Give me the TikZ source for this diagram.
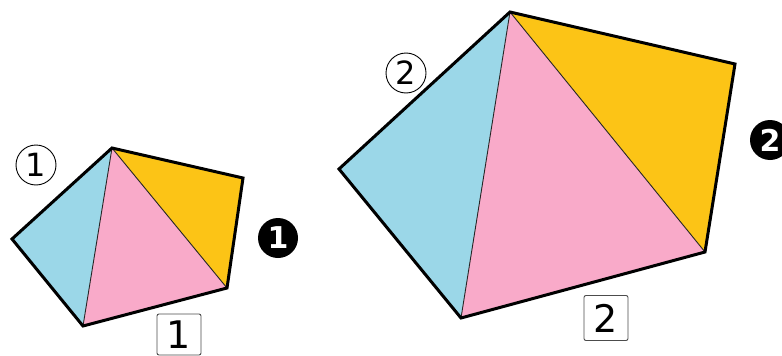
\documentclass[tikz,border=0pt]{standalone}
\usepackage{fontspec}
\setmainfont{DejaVu Sans}
\definecolor{cblue}{RGB}{155,215,232}
\definecolor{cpink}{RGB}{249,170,201}
\definecolor{cyel}{RGB}{252,196,22}
\tikzset{
  outline/.style={line width=3pt, line join=miter, black},
  diag/.style={line width=0.9pt, black!85},
  circnum/.style={circle, draw=black, line width=0.9pt, fill=white, minimum size=40pt, inner sep=0pt, font=\fontsize{32}{32}\selectfont},
  blacknum/.style={circle, fill=black, text=white, minimum size=40pt, inner sep=0pt, font=\bfseries\fontsize{30}{30}\selectfont},
  boxnum/.style={rectangle, rounded corners=2pt, draw=black!70, line width=0.9pt, fill=white, minimum width=44pt, minimum height=45pt, inner sep=0pt, font=\fontsize{38}{38}\selectfont}
}
\begin{document}
\begin{tikzpicture}[x=1pt,y=-1pt]
\useasboundingbox (0,0) rectangle (782,356);
% small pentagon
\coordinate (sT) at (112,148);
\coordinate (sRT) at (243,178);
\coordinate (sRB) at (227,288);
\coordinate (sB) at (83,326);
\coordinate (sL) at (12,239);
\fill[cblue] (sT) -- (sL) -- (sB) -- cycle;
\fill[cpink] (sT) -- (sB) -- (sRB) -- cycle;
\fill[cyel] (sT) -- (sRB) -- (sRT) -- cycle;
\draw[diag] (sT) -- (sB);
\draw[diag] (sT) -- (sRB);
\draw[outline] (sT) -- (sRT) -- (sRB) -- (sB) -- (sL) -- cycle;
% large pentagon
\coordinate (lT) at (510,12);
\coordinate (lRT) at (735,64);
\coordinate (lRB) at (705,252);
\coordinate (lB) at (461,318);
\coordinate (lL) at (339,169);
\fill[cblue] (lT) -- (lL) -- (lB) -- cycle;
\fill[cpink] (lT) -- (lB) -- (lRB) -- cycle;
\fill[cyel] (lT) -- (lRB) -- (lRT) -- cycle;
\draw[diag] (lT) -- (lB);
\draw[diag] (lT) -- (lRB);
\draw[outline] (lT) -- (lRT) -- (lRB) -- (lB) -- (lL) -- cycle;
% labels
\node[circnum] (c1) at (36,165) {1};
\node[blacknum] (b1) at (278,238) {1};
\node[boxnum, minimum height=41pt] (r1) at (179,334.5) {1};
\node[circnum] (c2) at (406,73) {2};
\node[blacknum] (b2) at (770,140) {2};
\node[boxnum] (r2) at (606,318) {2};
\end{tikzpicture}
\end{document}
